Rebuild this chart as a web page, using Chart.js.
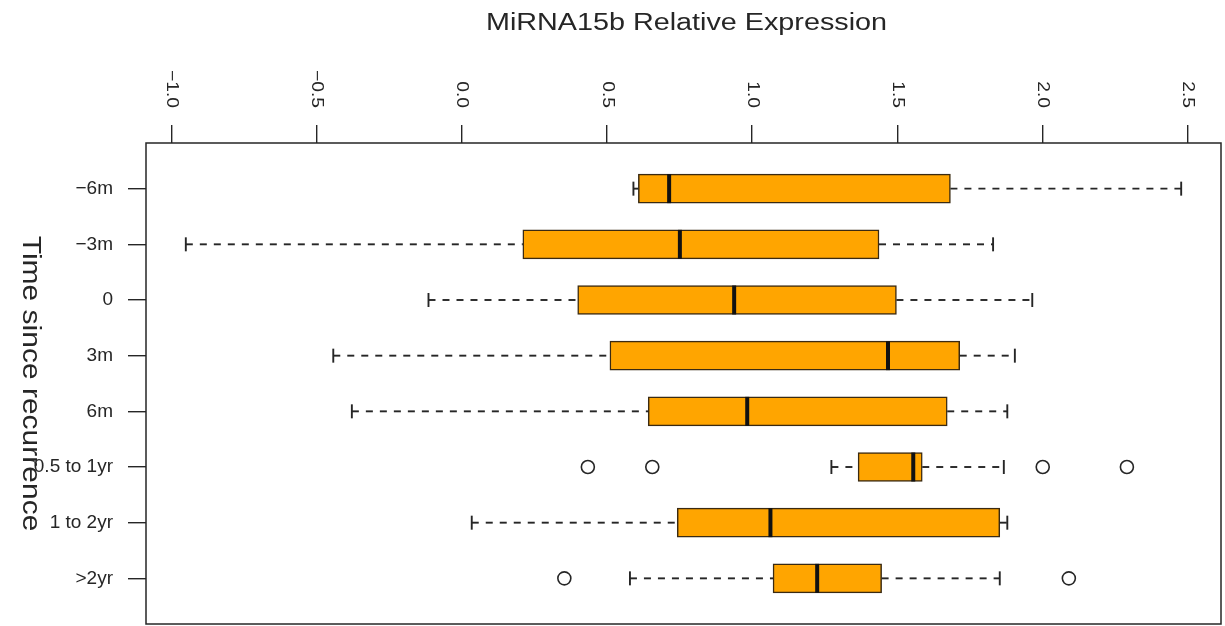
<!DOCTYPE html>
<html lang="en">
<head>
  <meta charset="UTF-8">
  <title>MiRNA15b Relative Expression</title>
  <style>
    html, body {
      margin: 0;
      padding: 0;
      background-color: white;
    }
    .chart-container {
      position: relative;
      width: 1225px;
      height: 626px;
    }
  </style>
</head>
<body>
  <div class="chart-container">
    <canvas id="box-chart"></canvas>
  </div>

  <script src="https://cdn.jsdelivr.net/npm/chart.js@4.4.0/dist/chart.umd.min.js"></script>
  <script>
    const GROUPS = ['\u22126m', '\u22123m', '0', '3m', '6m', '0.5 to 1yr', '1 to 2yr', '>2yr'];
    const LOWER = [0.591, -0.951, -0.115, -0.443, -0.379, 1.273, 0.034, 0.579];
    const Q1 = [0.608, 0.210, 0.399, 0.510, 0.642, 1.365, 0.742, 1.072];
    const MEDIAN = [0.714, 0.751, 0.938, 1.468, 0.983, 1.555, 1.063, 1.224];
    const Q3 = [1.683, 1.437, 1.497, 1.715, 1.672, 1.586, 1.853, 1.446];
    const UPPER = [2.478, 1.830, 1.965, 1.905, 1.879, 1.867, 1.879, 1.853];
    const OUTLIERS = [[], [], [], [], [], [0.434, 0.656, 2.001, 2.291], [], [0.353, 2.091]];
    const X_TICKS = [-1.0, -0.5, 0.0, 0.5, 1.0, 1.5, 2.0, 2.5];

    const TITLE = 'MiRNA15b Relative Expression';
    const Y_TITLE = 'Time since recurrence';
    const FONT = '"Liberation Sans", Arial, sans-serif';
    const BOX_HEIGHT = 29;
    const INK = '#262626';

    // R pads the data range by 4% on each side
    const allValues = LOWER.concat(UPPER, OUTLIERS.flat());
    const dataMin = Math.min(...allValues);
    const dataMax = Math.max(...allValues);
    const pad = (dataMax - dataMin) * 0.04;
    const yPad = GROUPS.length * 0.04;

    function fmtTick(v) {
      return v.toFixed(1).replace('-', '\u2212');
    }

    function strokeLine(ctx, x1, y1, x2, y2) {
      ctx.beginPath();
      ctx.moveTo(x1, y1);
      ctx.lineTo(x2, y2);
      ctx.stroke();
    }

    function stretchedText(ctx, text, x, y, angle, sx, align) {
      ctx.save();
      ctx.translate(x, y);
      ctx.rotate(angle);
      ctx.scale(sx, 1);
      ctx.textAlign = align;
      ctx.fillText(text, 0, 0);
      ctx.restore();
    }

    function noScalePadding(scale) {
      scale.paddingTop = 0;
      scale.paddingBottom = 0;
      scale.paddingLeft = 0;
      scale.paddingRight = 0;
    }

    const boxPartsPlugin = {
      id: 'boxParts',
      afterDatasetsDraw(chart) {
        const {ctx, scales: {x, y}} = chart;
        ctx.save();
        ctx.strokeStyle = INK;
        GROUPS.forEach((g, i) => {
          const cy = y.getPixelForValue(i + 1);
          const xl = x.getPixelForValue(LOWER[i]);
          const x1 = x.getPixelForValue(Q1[i]);
          const x3 = x.getPixelForValue(Q3[i]);
          const xu = x.getPixelForValue(UPPER[i]);
          const xm = x.getPixelForValue(MEDIAN[i]);

          ctx.lineWidth = 1.9;
          ctx.setLineDash([7, 7]);
          strokeLine(ctx, xl, cy, x1, cy);
          strokeLine(ctx, x3, cy, xu, cy);
          ctx.setLineDash([]);

          strokeLine(ctx, xl, cy - 7, xl, cy + 7);
          strokeLine(ctx, xu, cy - 7, xu, cy + 7);

          ctx.lineWidth = 4;
          ctx.strokeStyle = '#111';
          strokeLine(ctx, xm, cy - BOX_HEIGHT / 2, xm, cy + BOX_HEIGHT / 2);
          ctx.strokeStyle = INK;
        });
        ctx.restore();
      },
      afterDraw(chart) {
        const {ctx, chartArea, scales: {x}} = chart;
        ctx.save();

        ctx.strokeStyle = INK;
        ctx.lineWidth = 1.5;
        ctx.strokeRect(chartArea.left, chartArea.top, chartArea.right - chartArea.left, chartArea.bottom - chartArea.top);

        ctx.fillStyle = INK;
        ctx.textBaseline = 'alphabetic';
        ctx.font = `23px ${FONT}`;
        stretchedText(ctx, TITLE, (chartArea.left + chartArea.right) / 2 + 3, 30, 0, 1.25, 'center');

        ctx.textBaseline = 'middle';
        ctx.font = `16px ${FONT}`;
        X_TICKS.forEach(v => {
          stretchedText(ctx, fmtTick(v), x.getPixelForValue(v), chartArea.top - 35, Math.PI / 2, 1.2, 'right');
        });

        ctx.font = `25px ${FONT}`;
        stretchedText(ctx, Y_TITLE, 30, (chartArea.top + chartArea.bottom) / 2, Math.PI / 2, 1.2, 'center');
        ctx.restore();
      }
    };

    const boxData = GROUPS.map((g, i) => ({y: i + 1, x: [Q1[i], Q3[i]]}));
    const outlierData = [];
    OUTLIERS.forEach((vs, i) => vs.forEach(v => outlierData.push({x: v, y: i + 1})));

    new Chart(document.getElementById('box-chart'), {
      type: 'bar',
      data: {
        datasets: [
          {
            label: 'box',
            data: boxData,
            backgroundColor: '#FFA500',
            borderColor: '#3a2a12',
            borderWidth: 1.5,
            borderSkipped: false,
            barThickness: BOX_HEIGHT
          },
          {
            type: 'scatter',
            label: 'outliers',
            data: outlierData,
            pointStyle: 'circle',
            pointRadius: 6.5,
            borderColor: INK,
            borderWidth: 1.6,
            backgroundColor: 'rgba(0,0,0,0)'
          }
        ]
      },
      plugins: [boxPartsPlugin],
      options: {
        indexAxis: 'y',
        responsive: true,
        maintainAspectRatio: false,
        animation: false,
        events: [],
        layout: {
          autoPadding: false,
          padding: {left: 0, top: 0, right: 4, bottom: 2}
        },
        plugins: {
          legend: {display: false},
          tooltip: {enabled: false},
          title: {display: false}
        },
        scales: {
          x: {
            type: 'linear',
            position: 'top',
            min: dataMin - pad,
            max: dataMax + pad,
            border: {display: false},
            grid: {
              drawOnChartArea: false,
              drawTicks: true,
              tickLength: 18,
              color: INK,
              lineWidth: 1.4
            },
            ticks: {
              display: false,
              stepSize: 0.5,
              includeBounds: false
            },
            afterFit(scale) {
              scale.height = 143;
              noScalePadding(scale);
            }
          },
          y: {
            type: 'linear',
            reverse: true,
            offset: false,
            min: 0.5 - yPad,
            max: GROUPS.length + 0.5 + yPad,
            border: {display: false},
            grid: {
              offset: false,
              drawOnChartArea: false,
              drawTicks: true,
              tickLength: 18,
              color: INK,
              lineWidth: 1.4
            },
            ticks: {
              stepSize: 1,
              includeBounds: false,
              padding: 15,
              color: INK,
              font: {family: FONT, size: 19},
              callback: (v) => GROUPS[v - 1] || ''
            },
            afterFit(scale) {
              scale.width = 146;
              noScalePadding(scale);
            }
          }
        }
      }
    });
  </script>
</body>
</html>
